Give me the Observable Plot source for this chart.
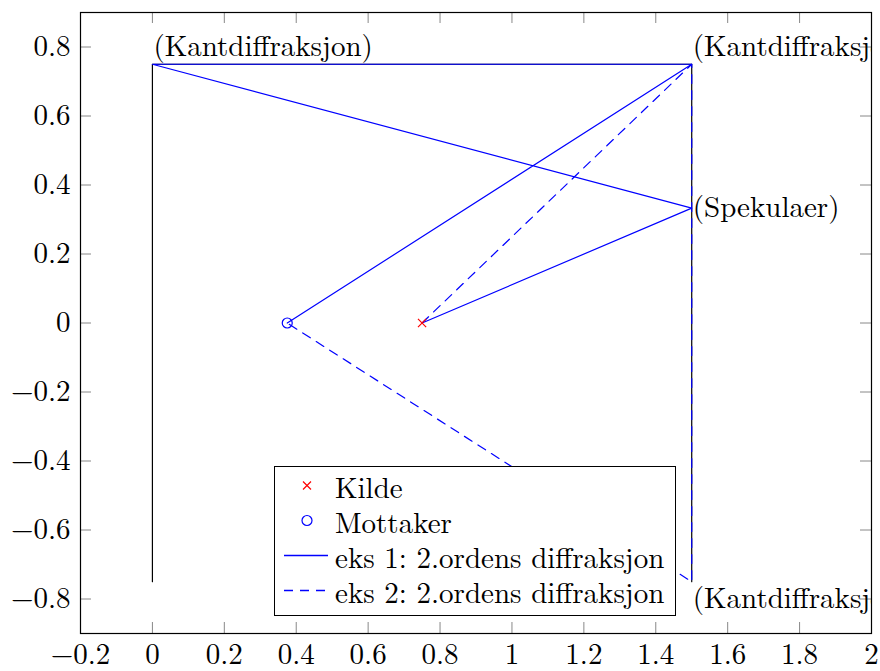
<!DOCTYPE html>
<html>
<head>
<meta charset="utf-8">
<script src="https://cdn.jsdelivr.net/npm/d3@7"></script>
<script src="https://cdn.jsdelivr.net/npm/@observablehq/plot@0.6"></script>
<style>
  html, body { margin: 0; padding: 0; background: #fff; }
  #chart { position: relative; width: 880px; height: 671px; }
  #legend {
    position: absolute; left: 274px; top: 466px; width: 402px; height: 150px;
    box-sizing: border-box; border: 1px solid #000; background: #fff;
    color: #000; padding-top: 1px;
  }
  .row { display: flex; align-items: center; height: 35px; }
  .row svg { width: 60px; height: 35px; flex: none; }
  .row span { white-space: nowrap; line-height: 35px; }
</style>
</head>
<body>
<div id="chart"></div>
<script>
// Room outline (walls)
const wallX = [0, 0, 1.5, 1.5];
const wallY = [-0.75, 0.75, 0.75, -0.75];

// Example 1: source -> specular point -> edge -> edge -> receiver
const eks1X = [0.75, 1.5, 0, 1.5, 0.375];
const eks1Y = [0, 0.333, 0.75, 0.75, 0];

// Example 2: source -> edge -> edge -> receiver
const eks2X = [0.75, 1.5, 1.5, 0.375];
const eks2Y = [0, 0.75, -0.75, 0];

// Source and receiver
const kildeX = [0.75], kildeY = [0];
const mottakerX = [0.375], mottakerY = [0];

// Point annotations
const labelText = ["(Kantdiffraksjon)", "(Kantdiffraksjon)", "(Spekulaer)", "(Kantdiffraksjon)"];
const labelX = [0, 1.5, 1.5, 1.5];
const labelY = [0.75, 0.75, 0.333, -0.75];
const labelPos = ["above", "above", "right", "below"];

// Legend entries
const legendLabels = ["Kilde", "Mottaker", "eks 1: 2.ordens diffraksjon", "eks 2: 2.ordens diffraksjon"];

// Axis ticks
const xTicks = [-0.2, 0, 0.2, 0.4, 0.6, 0.8, 1, 1.2, 1.4, 1.6, 1.8, 2];
const yTicks = [-0.8, -0.6, -0.4, -0.2, 0, 0.2, 0.4, 0.6, 0.8];

const FONT = "'Latin Modern Roman', 'Liberation Serif', serif";
const FS = "29px";

const toRows = (xs, ys) => xs.map((x, i) => ({x, y: ys[i]}));
const walls = toRows(wallX, wallY);
const eks1 = toRows(eks1X, eks1Y);
const eks2 = toRows(eks2X, eks2Y);
const kilde = toRows(kildeX, kildeY);
const mottaker = toRows(mottakerX, mottakerY);
const labels = labelText.map((t, i) => ({t, x: labelX[i], y: labelY[i], pos: labelPos[i]}));

const fmt = d => (Math.abs(d) < 1e-9 ? "0" : String(+d.toFixed(1))).replace("-", "\u2212");

const W = 880, H = 671;
const mL = 80, mR = 9, mT = 12, mB = 38;
const innerW = W - mL - mR, innerH = H - mT - mB;
const tickLen = 11;

const plot = Plot.plot({
  width: W, height: H,
  marginLeft: mL, marginRight: mR, marginTop: mT, marginBottom: mB,
  x: {domain: [-0.2, 2], label: null},
  y: {domain: [-0.9, 0.9], label: null},
  style: {fontFamily: FONT, fontSize: FS, color: "#000", background: "#fff"},
  marks: [
    // inward tick marks on all four sides
    Plot.tickX(xTicks, {x: d => d, stroke: "#888", insetTop: innerH - tickLen}),
    Plot.tickX(xTicks, {x: d => d, stroke: "#888", insetBottom: innerH - tickLen}),
    Plot.tickY(yTicks, {y: d => d, stroke: "#888", insetRight: innerW - tickLen}),
    Plot.tickY(yTicks, {y: d => d, stroke: "#888", insetLeft: innerW - tickLen}),
    Plot.axisX({ticks: xTicks, tickFormat: fmt, tickSize: 0, tickPadding: 10, label: null}),
    Plot.axisY({ticks: yTicks, tickFormat: fmt, tickSize: 0, tickPadding: 10, label: null}),
    // walls
    Plot.line(walls, {x: "x", y: "y", stroke: "#000", strokeWidth: 1.2}),
    // propagation paths
    Plot.line(eks1, {x: "x", y: "y", stroke: "#0000ff", strokeWidth: 1.2}),
    Plot.line(eks2, {x: "x", y: "y", stroke: "#0000ff", strokeWidth: 1.2, strokeDasharray: "9,7"}),
    // source and receiver
    Plot.dot(kilde, {x: "x", y: "y", symbol: "times", r: 3.8, stroke: "#ff0000", strokeWidth: 1.2}),
    Plot.dot(mottaker, {x: "x", y: "y", symbol: "circle", r: 5, stroke: "#0000ff", fill: "none", strokeWidth: 1.2}),
    // annotations
    Plot.text(labels.filter(d => d.pos === "above"), {x: "x", y: "y", text: "t", textAnchor: "start", dx: 1, dy: -18, clip: true, fill: "#000"}),
    Plot.text(labels.filter(d => d.pos === "right"), {x: "x", y: "y", text: "t", textAnchor: "start", dx: 1, dy: 0, clip: true, fill: "#000"}),
    Plot.text(labels.filter(d => d.pos === "below"), {x: "x", y: "y", text: "t", textAnchor: "start", dx: 1, dy: 17, clip: true, fill: "#000"}),
    Plot.frame({stroke: "#000", strokeWidth: 1.2})
  ]
});

// make sure every text element uses the serif face
d3.select(plot).attr("font-family", FONT).attr("font-size", FS)
  .selectAll("text").style("font-family", FONT).style("font-size", FS);

const chart = document.getElementById("chart");
chart.appendChild(plot);

// Legend box
const legend = document.createElement("div");
legend.id = "legend";
legend.style.fontFamily = FONT;
legend.style.fontSize = FS;
const swatches = [
  '<path d="M28,13.5 L36,21.5 M36,13.5 L28,21.5" stroke="#ff0000" stroke-width="1.2"/>',
  '<circle cx="32" cy="17.5" r="5" fill="none" stroke="#0000ff" stroke-width="1.2"/>',
  '<line x1="9" x2="53" y1="17.5" y2="17.5" stroke="#0000ff" stroke-width="1.3"/>',
  '<line x1="9" x2="53" y1="17.5" y2="17.5" stroke="#0000ff" stroke-width="1.3" stroke-dasharray="9,7"/>'
];
legendLabels.forEach((lab, i) => {
  const row = document.createElement("div");
  row.className = "row";
  row.innerHTML = `<svg viewBox="0 0 60 35">${swatches[i]}</svg><span style="font-family:${FONT.replace(/'/g, "&quot;")}">${lab}</span>`;
  legend.appendChild(row);
});
chart.appendChild(legend);
</script>
</body>
</html>
